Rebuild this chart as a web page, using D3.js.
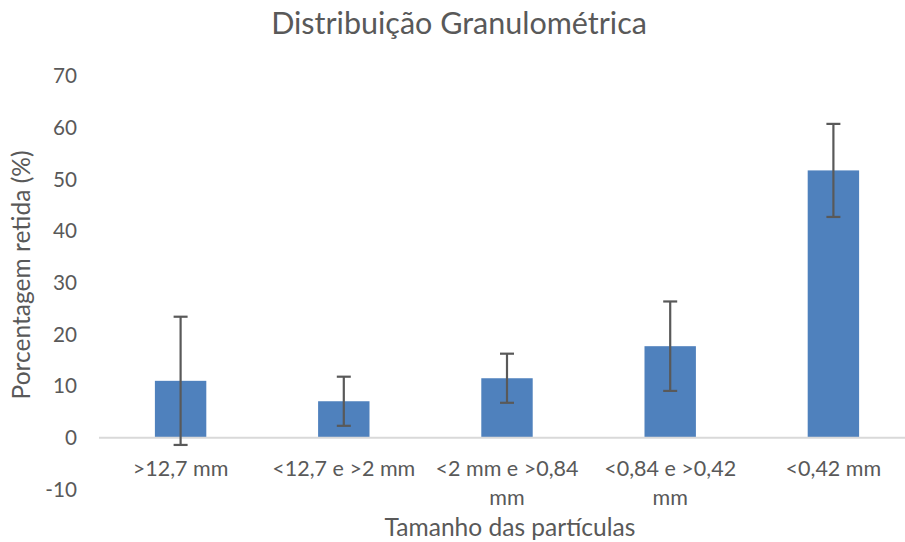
<!DOCTYPE html>
<html><head><meta charset="utf-8">
<script src="https://cdn.jsdelivr.net/npm/d3@7"></script>
<style>body{margin:0;background:#fff}svg{display:block}text{font-family:Lato,"Open Sans",sans-serif;fill:#595959}</style>
</head><body><svg id="c" width="905" height="542"></svg>
<script>
const categories = [">12,7 mm", "<12,7 e >2 mm", "<2 mm e >0,84 mm", "<0,84 e >0,42 mm", "<0,42 mm"];
const values = [11.0, 7.05, 11.5, 17.7, 51.7];
const errors = [12.4, 4.75, 4.75, 8.65, 9.0];
const yTicks = [-10, 0, 10, 20, 30, 40, 50, 60, 70];
const title = "Distribuição Granulométrica";
const xTitle = "Tamanho das partículas";
const yTitle = "Porcentagem retida (%)";

const svg = d3.select("#c");
// font size that makes a string reach a given width
function fitSize(str, width) {
  const t = svg.append("text").style("font-size", "100px").text(str);
  const w = t.node().getComputedTextLength();
  t.remove();
  return 100 * width / w;
}
const labelSize = fitSize("<12,7 e >2 mm", 143);
const tickSize = fitSize("70", 24);
const titleSize = Math.min(30.5, fitSize(title, 422));
const axTitleSize = (fitSize(xTitle, 256) + fitSize(yTitle, 244)) / 2;

const x = d3.scaleBand().domain(categories).range([99, 915]).paddingInner(0.685).paddingOuter(0.3425);
const y = d3.scaleLinear().domain([-10, 70]).range([489.4, 75.8]);

// y tick labels
svg.append("g").selectAll("text").data(yTicks).join("text")
  .attr("x", 77).attr("y", d => y(d)).attr("dy", "0.36em")
  .attr("text-anchor", "end").style("font-size", tickSize + "px").text(d => d);

// bars
svg.append("g").selectAll("rect").data(values).join("rect")
  .attr("x", (d, i) => x(categories[i])).attr("width", x.bandwidth())
  .attr("y", d => y(Math.max(0, d))).attr("height", d => Math.abs(y(d) - y(0)))
  .attr("fill", "#4f81bd");

// zero axis line
svg.append("line").attr("x1", 99).attr("x2", 915).attr("y1", y(0)).attr("y2", y(0))
  .attr("stroke", "#d9d9d9").attr("stroke-width", 2);

// error bars
const eg = svg.append("g").attr("stroke", "#595959").attr("stroke-width", 2.2);
values.forEach((v, i) => {
  const cx = x(categories[i]) + x.bandwidth() / 2;
  const hi = y(v + errors[i]), lo = y(v - errors[i]);
  eg.append("line").attr("x1", cx).attr("x2", cx).attr("y1", hi).attr("y2", lo);
  eg.append("line").attr("x1", cx - 7).attr("x2", cx + 7).attr("y1", hi).attr("y2", hi);
  eg.append("line").attr("x1", cx - 7).attr("x2", cx + 7).attr("y1", lo).attr("y2", lo);
});

// x labels (wrap)
const xl = svg.append("g");
categories.forEach(c => {
  const cx = x(c) + x.bandwidth() / 2;
  const t = xl.append("text").attr("x", cx).attr("y", 476).attr("text-anchor", "middle").style("font-size", labelSize + "px");
  const words = c.split(" ");
  let line = [], lines = [];
  words.forEach(w => {
    const test = line.concat(w).join(" ");
    t.text(test);
    if (t.node().getComputedTextLength() > 158 && line.length) { lines.push(line.join(" ")); line = [w]; }
    else line.push(w);
  });
  lines.push(line.join(" "));
  t.text(null);
  lines.forEach((l, k) => t.append("tspan").attr("x", cx).attr("y", 476 + k * 29).text(l));
});

svg.append("text").attr("x", 459).attr("y", 34).attr("text-anchor", "middle").style("font-size", titleSize + "px").text(title);
svg.append("text").attr("x", 510).attr("y", 536).attr("text-anchor", "middle").style("font-size", axTitleSize + "px").text(xTitle);
svg.append("text").attr("transform", "translate(30,275) rotate(-90)").attr("text-anchor", "middle").style("font-size", axTitleSize + "px").text(yTitle);
</script></body></html>
